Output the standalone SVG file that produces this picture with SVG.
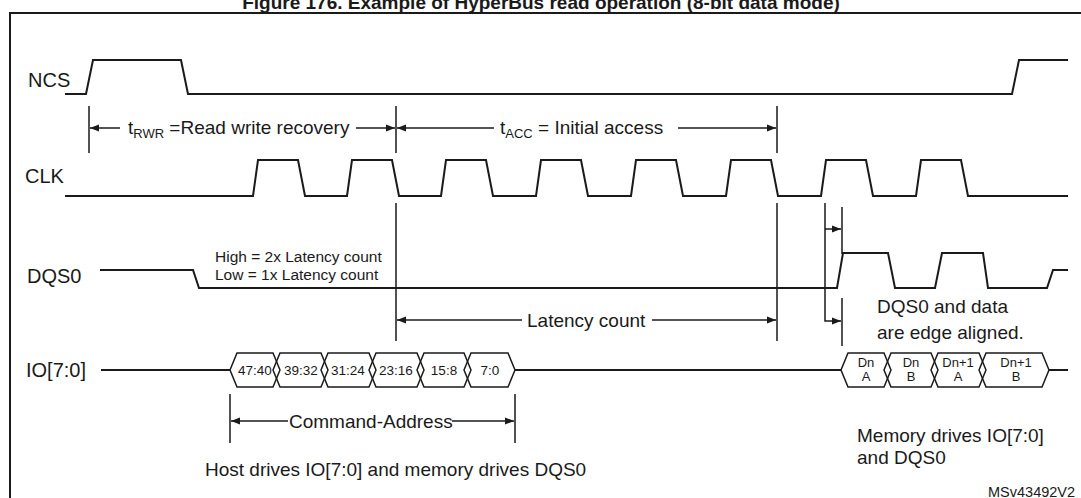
<svg xmlns="http://www.w3.org/2000/svg" width="1081" height="498" viewBox="0 0 1081 498">
<defs>
<marker id="ah" viewBox="0 0 10 10" refX="10" refY="5" markerWidth="9" markerHeight="9" markerUnits="userSpaceOnUse" orient="auto-start-reverse"><path d="M0,1 L10,5 L0,9 z" fill="#1a1a1a"/></marker>
<style>
text{font-family:"Liberation Sans",Arial,sans-serif;fill:#1a1a1a}
.sig{fill:none;stroke:#1a1a1a;stroke-width:2}
.ln{fill:none;stroke:#1a1a1a;stroke-width:1.5}
.lab{font-size:20px}
.t{font-size:19px}
.s{font-size:15.5px}
.c{font-size:13.5px;text-anchor:middle}
.d{font-size:13px;text-anchor:middle}
</style>
</defs>
<rect width="1081" height="498" fill="#fff"/>
<text x="541" y="9" font-size="19" font-weight="bold" text-anchor="middle">Figure 176. Example of HyperBus read operation (8-bit data mode)</text>
<rect x="10" y="13" width="1090" height="510" fill="none" stroke="#1a1a1a" stroke-width="2"/>

<g id="ncs">
<text class="lab" x="28" y="87">NCS</text>
<path class="sig" d="M65,94 H86 L93,60 H181 L188,94 H1012 L1019,60 H1068"/>
</g>
<g id="clk">
<text class="lab" x="25" y="183">CLK</text>
<path class="sig" d="M65,196 H253 l5,-36 h40 l7,36 H347 l5,-36 h40 l7,36 H441 l5,-36 h40 l7,36 H536 l5,-36 h40 l7,36 H631 l5,-36 h40 l7,36 H726 l5,-36 h40 l7,36 H821 l5,-36 h40 l7,36 H916 l5,-36 h40 l7,36 H1068"/>
</g>
<g id="dqs0">
<text class="lab" x="27" y="283">DQS0</text>
<path class="sig" d="M100,270 H193 L199,288 H837 L843,253 H888 L895,288 H935 L942,253 H983 L988,288 H1047 L1053,270 H1068"/>
<text class="s" x="215" y="262">High = 2x Latency count</text>
<text class="s" x="215" y="280">Low = 1x Latency count</text>
</g>
<g id="io">
<text class="lab" x="26" y="377">IO[7:0]</text>
<path class="sig" d="M101,370 H230 M515,370 H841 M1049,370 H1068"/>
<path class="ln" d="M237,353 H273 L280,370 L273,387 H237 L230,370 Z"/>
<path class="ln" d="M280,353 H321 L328,370 L321,387 H280 L273,370 Z"/>
<path class="ln" d="M328,353 H369 L376,370 L369,387 H328 L321,370 Z"/>
<path class="ln" d="M376,353 H417 L424,370 L417,387 H376 L369,370 Z"/>
<path class="ln" d="M424,353 H464 L471,370 L464,387 H424 L417,370 Z"/>
<path class="ln" d="M471,353 H508 L515,370 L508,387 H471 L464,370 Z"/>
<text class="c" x="255" y="375">47:40</text>
<text class="c" x="301" y="375">39:32</text>
<text class="c" x="348" y="375">31:24</text>
<text class="c" x="396" y="375">23:16</text>
<text class="c" x="444" y="375">15:8</text>
<text class="c" x="490" y="375">7:0</text>
<path class="ln" d="M848,353 H884 L891,370 L884,387 H848 L841,370 Z"/>
<path class="ln" d="M891,353 H931 L938,370 L931,387 H891 L884,370 Z"/>
<path class="ln" d="M938,353 H979 L986,370 L979,387 H938 L931,370 Z"/>
<path class="ln" d="M986,353 H1042 L1049,370 L1042,387 H986 L979,370 Z"/>
<text class="d" x="866" y="367">Dn</text><text class="d" x="866" y="381">A</text>
<text class="d" x="911" y="367">Dn</text><text class="d" x="911" y="381">B</text>
<text class="d" x="958" y="367">Dn+1</text><text class="d" x="958" y="381">A</text>
<text class="d" x="1016" y="367">Dn+1</text><text class="d" x="1016" y="381">B</text>
</g>
<g id="connectors">
<path class="ln" d="M89,106 V153 M396,106 V153 M777,106 V153"/>
<path class="ln" d="M120,128 H90" marker-end="url(#ah)"/>
<path class="ln" d="M356,128 H395" marker-end="url(#ah)"/>
<path class="ln" d="M494,128 H397" marker-end="url(#ah)"/>
<path class="ln" d="M678,128 H776" marker-end="url(#ah)"/>
<path class="ln" d="M396,203 V341 M777,203 V341"/>
<path class="ln" d="M522,320 H397" marker-end="url(#ah)"/>
<path class="ln" d="M652,320 H776" marker-end="url(#ah)"/>
<path class="ln" d="M825,203 V321 H841" marker-end="url(#ah)"/>
<path class="ln" d="M842,207 V254 M842,298 V346"/>
<path class="ln" d="M825,229 H841" marker-end="url(#ah)"/>
<path class="ln" d="M230,394 V443 M515,394 V443"/>
<path class="ln" d="M288,421 H231" marker-end="url(#ah)"/>
<path class="ln" d="M452,421 H514" marker-end="url(#ah)"/>
</g>
<g id="labels">
<text class="t" x="128" y="134">t<tspan font-size="13" dy="4">RWR</tspan><tspan dy="-4"> =Read write recovery</tspan></text>
<text class="t" x="500" y="134">t<tspan font-size="13" dy="4">ACC</tspan><tspan dy="-4">  = Initial access</tspan></text>
<text class="t" x="527" y="327">Latency count</text>
<text class="t" x="289" y="428">Command-Address</text>
<text class="t" x="205" y="476">Host drives IO[7:0] and memory drives DQS0</text>
<text class="t" x="877" y="313">DQS0 and data</text>
<text class="t" x="877" y="339">are edge aligned.</text>
<text class="t" x="857" y="442">Memory drives IO[7:0]</text>
<text class="t" x="857" y="464">and DQS0</text>
<text font-size="14.5" x="988" y="497">MSv43492V2</text>
</g>
</svg>
